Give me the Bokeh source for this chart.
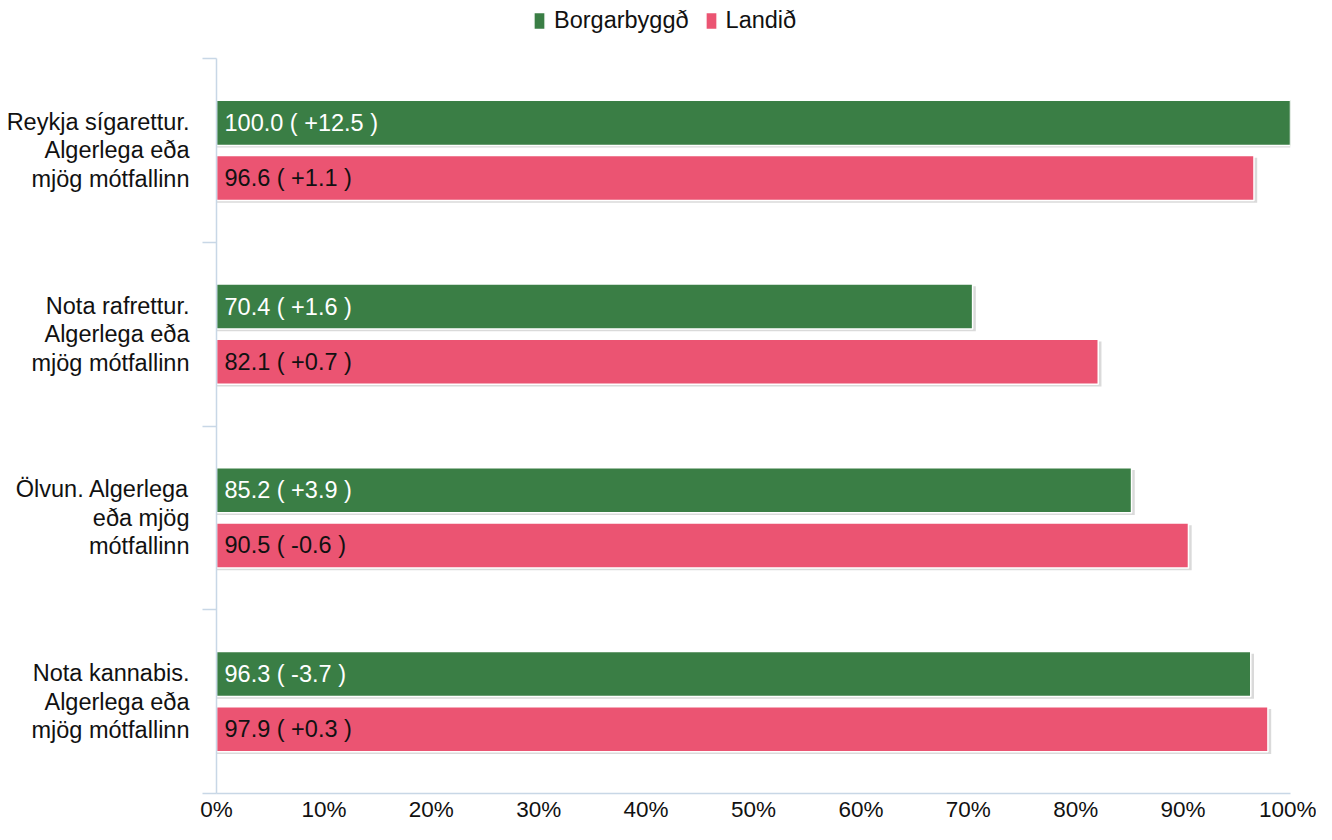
from bokeh.plotting import figure
from bokeh.models import (ColumnDataSource, Range1d, LinearAxis, FixedTicker, Legend,
                          LegendItem)
from bokeh.core.properties import value
from bokeh.embed import file_html
from bokeh.resources import INLINE

# ---------------- data ----------------
categories = [
    "Reykja sígarettur.\nAlgerlega eða\nmjög mótfallinn",
    "Nota rafrettur.\nAlgerlega eða\nmjög mótfallinn",
    "Ölvun. Algerlega\neða mjög\nmótfallinn",
    "Nota kannabis.\nAlgerlega eða\nmjög mótfallinn",
]
series_names = ["Borgarbyggð", "Landið"]
borg_values = [100.0, 70.4, 85.2, 96.3]
borg_diffs = [12.5, 1.6, 3.9, -3.7]
land_values = [96.6, 82.1, 90.5, 97.9]
land_diffs = [1.1, 0.7, -0.6, 0.3]
x_ticks = [0, 10, 20, 30, 40, 50, 60, 70, 80, 90, 100]
x_tick_labels = ["0%", "10%", "20%", "30%", "40%", "50%", "60%", "70%", "80%", "90%", "100%"]

# ---------------- styles ----------------
GREEN = "#3A7E45"
PINK = "#EB5472"
AXIS = "#C8D7E6"
TEXT = "#111111"
FONT = "Liberation Sans"
OFF = 0.15
BAR_H = 0.245
TOP_SPACE = 0.316   # empty room above the bars (in category units) for the legend

n = len(categories)
centers = [n - 1 - i + 0.5 for i in range(n)]


def fmt(v, d):
    return f"{v:.1f} ( {d:+.1f} )"


borg_src = ColumnDataSource(dict(
    y=[c + OFF for c in centers], v=borg_values,
    shadow_y=[c + OFF - 0.012 for c in centers], shadow_r=[v + 0.3 for v in borg_values],
    label=[fmt(v, d) for v, d in zip(borg_values, borg_diffs)],
))
land_src = ColumnDataSource(dict(
    y=[c - OFF for c in centers], v=land_values,
    shadow_y=[c - OFF - 0.012 for c in centers], shadow_r=[v + 0.3 for v in land_values],
    label=[fmt(v, d) for v, d in zip(land_values, land_diffs)],
))

p = figure(width=1316, height=824, output_backend="svg", toolbar_location=None,
           x_range=Range1d(0, 100), y_range=Range1d(0, n + TOP_SPACE),
           x_axis_location=None, y_axis_location=None,
           min_border_left=216, min_border_right=26, min_border_top=0, min_border_bottom=30)
p.outline_line_color = None
p.xgrid.visible = False
p.ygrid.visible = False
p.background_fill_color = "white"
p.border_fill_color = "white"

# shadows
for src in (borg_src, land_src):
    p.hbar(y="shadow_y", left=0, right="shadow_r", height=BAR_H, source=src,
           fill_color="#BBBBBB", fill_alpha=0.55, line_color=None)

r_borg = p.hbar(y="y", left=0, right="v", height=BAR_H, source=borg_src,
                fill_color=GREEN, line_color="white", line_width=1.5)
r_land = p.hbar(y="y", left=0, right="v", height=BAR_H, source=land_src,
                fill_color=PINK, line_color="white", line_width=1.5)

p.text(x=0, y="y", text="label", source=borg_src, x_offset=8, text_baseline="middle",
       text_align="left", text_color="white", text_font=value(FONT), text_font_size="23.5px")
p.text(x=0, y="y", text="label", source=land_src, x_offset=8, text_baseline="middle",
       text_align="left", text_color=TEXT, text_font=value(FONT), text_font_size="23.5px")

# y axis (categories)
yaxis = LinearAxis(ticker=FixedTicker(ticks=centers, minor_ticks=list(range(n + 1))),
                   major_label_overrides={c: lab for c, lab in zip(centers, categories)},
                   bounds=(0, n))
yaxis.axis_line_color = AXIS
yaxis.axis_line_width = 1.5
yaxis.major_tick_out = 0
yaxis.major_tick_in = 0
yaxis.minor_tick_out = 14
yaxis.minor_tick_in = 0
yaxis.minor_tick_line_color = AXIS
yaxis.minor_tick_line_width = 1.5
yaxis.major_label_standoff = 13
yaxis.major_label_text_font = FONT
yaxis.major_label_text_font_size = "23.5px"
yaxis.major_label_text_line_height = 1.1
yaxis.major_label_text_color = TEXT
p.add_layout(yaxis, "left")

# x axis
xaxis = LinearAxis(ticker=FixedTicker(ticks=x_ticks, minor_ticks=[]),
                   major_label_overrides={t: lab for t, lab in zip(x_ticks, x_tick_labels)})
xaxis.axis_line_color = AXIS
xaxis.axis_line_width = 1.5
xaxis.major_tick_out = 0
xaxis.major_tick_in = 0
xaxis.major_label_standoff = 3
xaxis.major_label_text_font = FONT
xaxis.major_label_text_font_size = "22.5px"
xaxis.major_label_text_color = TEXT
p.add_layout(xaxis, "below")

legend = Legend(items=[LegendItem(label=series_names[0], renderers=[r_borg]),
                       LegendItem(label=series_names[1], renderers=[r_land])],
                orientation="horizontal", location=(316, 759),
                glyph_width=14, glyph_height=21, label_standoff=8, spacing=15,
                padding=0, margin=0, border_line_color=None, background_fill_alpha=0,
                label_text_font=FONT, label_text_font_size="23.5px", label_text_color=TEXT)
p.add_layout(legend, "center")

open("out.html", "w").write(file_html(p, INLINE))
